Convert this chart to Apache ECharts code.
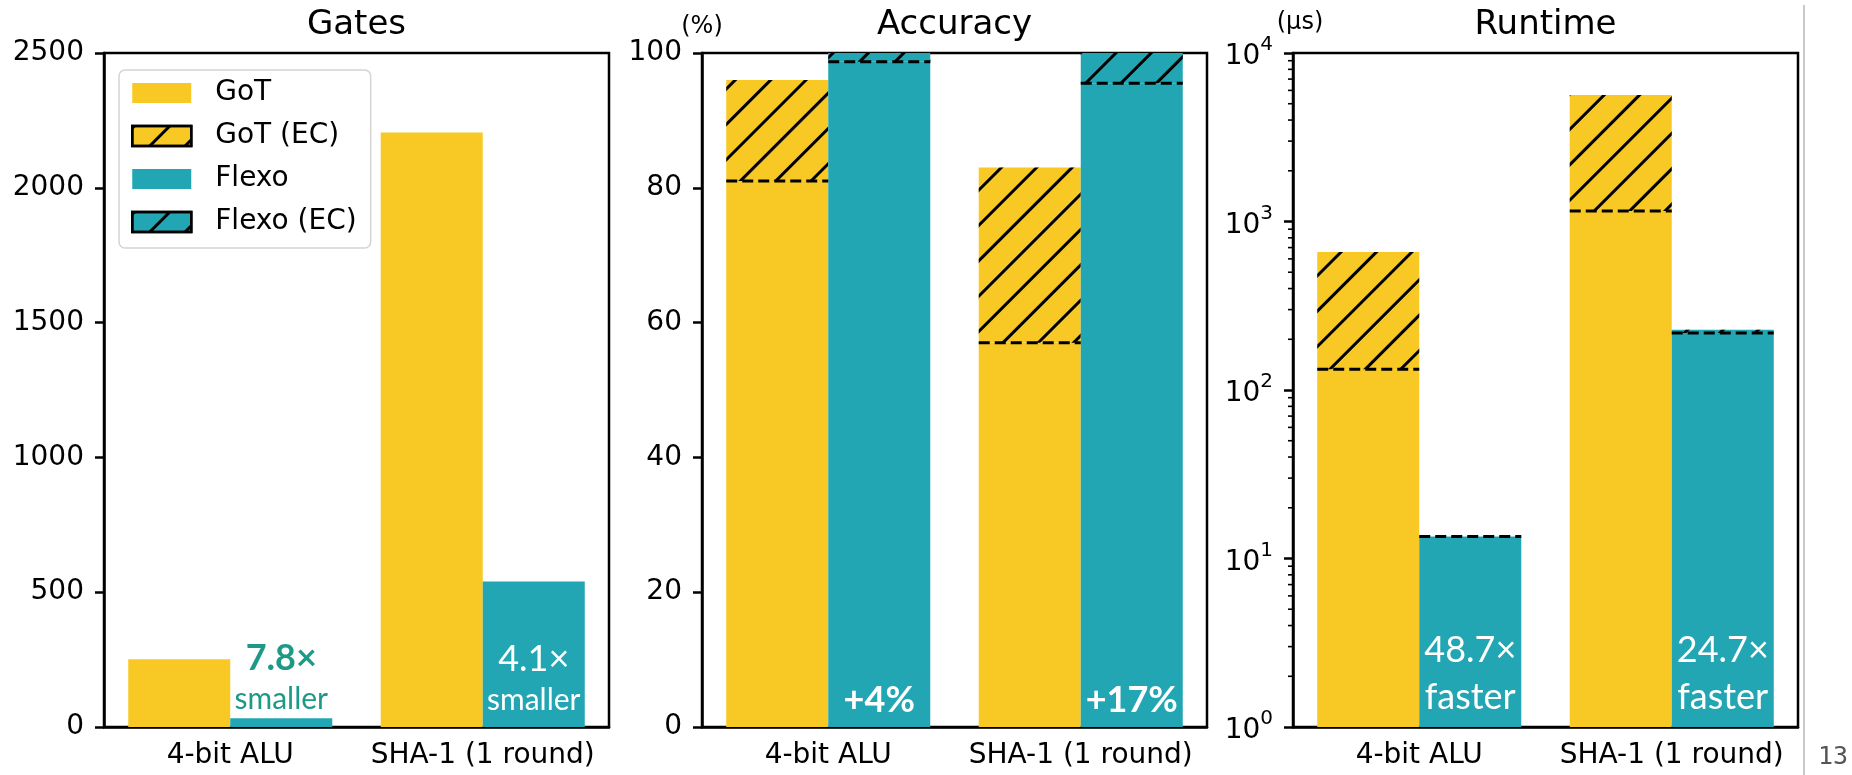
<!DOCTYPE html>
<html>
<head>
<meta charset="utf-8">
<script src="https://cdn.jsdelivr.net/npm/echarts@6/dist/echarts.min.js"></script>
<style>
  html, body { margin: 0; padding: 0; background: #fff; }
  #main { width: 1852px; height: 775px; }
</style>
</head>
<body>
<div id="main"></div>
<script>
// ---- data ----
const categories = ['4-bit ALU', 'SHA-1 (1 round)'];

// gates
const gatesGoT = [251, 2205];
const gatesFlexo = [32, 540];

// accuracy (%), plain and with error correction
const accGoT = [81, 57];
const accGoTEC = [96, 83];
const accFlexo = [98.7, 95.5];
const accFlexoEC = [100, 100];

// runtime (us), plain and with error correction
const rtGoT = [133, 1154];
const rtGoTEC = [659, 5634];
const rtFlexo = [13.5, 218];
const rtFlexoEC = [13.5, 228];

// annotations
const gatesNotes = ['7.8×', '4.1×'];
const accNotes = ['+4%', '+17%'];
const rtNotes = ['48.7×', '24.7×'];

const titles = ['Gates', 'Accuracy', 'Runtime'];

// ---- style ----
const YELLOW = '#f8c924';
const TEAL = '#23a6b3';
const NOTE = '#1d9a87';
const FONT = 'DejaVu Sans';
const BAR_FRAC = 0.404;

const grids = [
  { left: 104, top: 53, width: 505, height: 674 },
  { left: 702, top: 53, width: 505, height: 674 },
  { left: 1293, top: 53, width: 505, height: 674 }
];

const hatch = {
  symbol: 'rect',
  symbolSize: 1,
  color: '#000',
  backgroundColor: null,
  dashArrayX: [1, 0],
  dashArrayY: [3, 22],
  rotation: -Math.PI / 4
};

function diff(top, base) {
  return top.map((v, i) => +(v - base[i]).toFixed(3));
}

function xAxisFor(i) {
  return {
    type: 'category', gridIndex: i, data: categories,
    axisLine: { lineStyle: { color: '#000', width: 2.5 } },
    axisTick: { alignWithLabel: true, length: 9, lineStyle: { color: '#000', width: 2.5 } },
    axisLabel: { color: '#000', fontFamily: FONT, fontSize: 28, margin: 15, interval: 0 }
  };
}

function dashSeries(i, got, flexo) {
  const data = [];
  got.forEach((v, k) => data.push([k, v, 0]));
  flexo.forEach((v, k) => data.push([k, v, 1]));
  return {
    type: 'custom', xAxisIndex: i, yAxisIndex: i, z: 5, silent: true,
    encode: { x: 0, y: 1 },
    data: data,
    renderItem: function (params, api) {
      const p = api.coord([api.value(0), api.value(1)]);
      const bw = api.size([1, 0])[0] * BAR_FRAC;
      const x0 = api.value(2) === 0 ? p[0] - bw : p[0];
      return {
        type: 'line',
        shape: { x1: x0, y1: p[1], x2: x0 + bw, y2: p[1] },
        style: { stroke: '#000', lineWidth: 3, lineDash: [11, 5] }
      };
    }
  };
}

function bar(name, i, stack, color, data, ec) {
  return {
    name: name, type: 'bar', xAxisIndex: i, yAxisIndex: i, stack: stack + i,
    barWidth: (BAR_FRAC * 100) + '%', barGap: 0,
    itemStyle: ec ? { color: color, decal: hatch } : { color: color },
    data: data
  };
}

const richBig = (color, weight) => ({ fontFamily: 'Lato', fontWeight: weight, fontSize: 36, color: color, lineHeight: 44 });
const richSmall = (color, size) => ({ fontFamily: 'Lato', fontSize: size, color: color, lineHeight: 38 });

// gates labels
const gatesFlexoData = gatesFlexo.map((v, k) => ({
  value: v,
  label: k === 0 ? {
    show: true, position: 'top', distance: 0,
    formatter: '{a|' + gatesNotes[k] + '}\n{b|smaller}',
    rich: { a: richBig(NOTE, 'bold'), b: richSmall(NOTE, 30) }
  } : {
    show: true, position: 'insideBottom', distance: 8,
    formatter: '{a|' + gatesNotes[k] + '}\n{b|smaller}',
    rich: { a: richBig('#fff', 'normal'), b: richSmall('#fff', 30) }
  }
}));

const accFlexoData = accFlexo.map((v, k) => ({
  value: v,
  label: {
    show: true, position: 'insideBottom', distance: 9,
    formatter: '{a|' + accNotes[k] + '}',
    rich: { a: { fontFamily: 'Lato', fontWeight: 'bold', fontSize: 36, color: '#fff', lineHeight: 36 } }
  }
}));

const rtFlexoData = rtFlexo.map((v, k) => ({
  value: v,
  label: {
    show: true, position: 'insideBottom', distance: 7,
    formatter: '{a|' + rtNotes[k] + '}\n{b|faster}',
    rich: { a: { fontFamily: 'Lato', fontSize: 36, color: '#fff', lineHeight: 48 },
            b: { fontFamily: 'Lato', fontSize: 36, color: '#fff', lineHeight: 46 } }
  }
}));

// minor ticks of the log axis (2..9 in each decade)
const minorTicks = [];
[1, 10, 100, 1000].forEach(d => { for (let m = 2; m <= 9; m++) minorTicks.push([0, m * d]); });

const supDigits = { 0: '0', 1: '1', 2: '2', 3: '3', 4: '4' };

function valueAxis(i, extra) {
  return Object.assign({
    type: 'value', gridIndex: i,
    splitLine: { show: false },
    axisLine: { show: true, lineStyle: { color: '#000', width: 2.5 } },
    axisTick: { show: true, length: 9, lineStyle: { color: '#000', width: 2.5 } },
    axisLabel: { color: '#000', fontFamily: FONT, fontSize: 28, margin: 20, formatter: v => String(v) }
  }, extra);
}

function titleText(k) {
  const g = grids[k];
  return {
    type: 'text', x: g.left + g.width / 2, y: 25,
    style: { text: titles[k], font: '34px "DejaVu Sans"', fill: '#000', align: 'center', verticalAlign: 'middle' }
  };
}

const option = {
  animation: false,
  backgroundColor: '#fff',
  grid: grids.map(g => Object.assign({ show: true, borderColor: '#000', borderWidth: 2.5, containLabel: false }, g)),
  xAxis: [xAxisFor(0), xAxisFor(1), xAxisFor(2)],
  yAxis: [
    valueAxis(0, { min: 0, max: 2500, interval: 500 }),
    valueAxis(1, {
      min: 0, max: 100, interval: 20,
      name: '(%)', nameLocation: 'end', nameGap: 5,
      nameTextStyle: { color: '#000', fontFamily: FONT, fontSize: 24, align: 'center' }
    }),
    valueAxis(2, {
      type: 'log', min: 1, max: 10000, logBase: 10,
      name: '(μs)', nameLocation: 'end', nameGap: 5,
      nameTextStyle: { color: '#000', fontFamily: FONT, fontSize: 24, align: 'center', padding: [0, 0, 0, 14] },
      axisLabel: {
        color: '#000', fontFamily: FONT, fontSize: 28, margin: 20,
        formatter: v => '{b|10}{s|' + supDigits[Math.round(Math.log10(v))] + '}',
        rich: {
          b: { fontFamily: FONT, fontSize: 28, color: '#000', padding: [8, 0, 0, 0] },
          s: { fontFamily: FONT, fontSize: 20, color: '#000', verticalAlign: 'top' }
        }
      }
    })
  ],
  legend: {
    orient: 'vertical', left: 119, top: 70,
    padding: [9, 14, 12, 12], itemGap: 15, itemWidth: 59, itemHeight: 20,
    backgroundColor: 'rgba(255,255,255,0.85)', borderColor: '#d4d4d4', borderWidth: 1.5, borderRadius: 6,
    textStyle: { fontFamily: FONT, fontSize: 28, color: '#000', padding: [0, 0, 0, 19] },
    selectedMode: false,
    data: [
      { name: 'GoT', icon: 'rect' },
      { name: 'GoT (EC)', icon: 'rect', itemStyle: { borderColor: '#000', borderWidth: 2.5 } },
      { name: 'Flexo', icon: 'rect' },
      { name: 'Flexo (EC)', icon: 'rect', itemStyle: { borderColor: '#000', borderWidth: 2.5 } }
    ]
  },
  graphic: [
    titleText(0), titleText(1), titleText(2),
    { type: 'line', shape: { x1: 1804, y1: 5, x2: 1804, y2: 775 }, style: { stroke: '#b8b8b8', lineWidth: 1.5 } },
    { type: 'text', x: 1818, y: 757, style: { text: '13', font: '25px "DejaVu Sans Mono"', fill: '#555', verticalAlign: 'middle' } }
  ],
  series: [
    // gates
    bar('GoT', 0, 'g', YELLOW, gatesGoT, false),
    bar('Flexo', 0, 'f', TEAL, gatesFlexoData, false),
    // accuracy
    bar('GoT', 1, 'g', YELLOW, accGoT, false),
    bar('GoT (EC)', 1, 'g', YELLOW, diff(accGoTEC, accGoT), true),
    bar('Flexo', 1, 'f', TEAL, accFlexoData, false),
    bar('Flexo (EC)', 1, 'f', TEAL, diff(accFlexoEC, accFlexo), true),
    dashSeries(1, accGoT, accFlexo),
    // runtime
    bar('GoT', 2, 'g', YELLOW, rtGoT, false),
    bar('GoT (EC)', 2, 'g', YELLOW, diff(rtGoTEC, rtGoT), true),
    bar('Flexo', 2, 'f', TEAL, rtFlexoData, false),
    bar('Flexo (EC)', 2, 'f', TEAL, diff(rtFlexoEC, rtFlexo), true),
    dashSeries(2, rtGoT, rtFlexo),
    {
      type: 'custom', xAxisIndex: 2, yAxisIndex: 2, silent: true, clip: false,
      encode: { x: 0, y: 1 },
      data: minorTicks,
      renderItem: function (params, api) {
        const p = api.coord([0, api.value(1)]);
        const x = params.coordSys.x;
        return {
          type: 'line',
          shape: { x1: x - 5, y1: p[1], x2: x, y2: p[1] },
          style: { stroke: '#000', lineWidth: 1.6 }
        };
      }
    }
  ]
};

const chart = echarts.init(document.getElementById('main'), null, { renderer: 'canvas' });
chart.setOption(option);
</script>
</body>
</html>
